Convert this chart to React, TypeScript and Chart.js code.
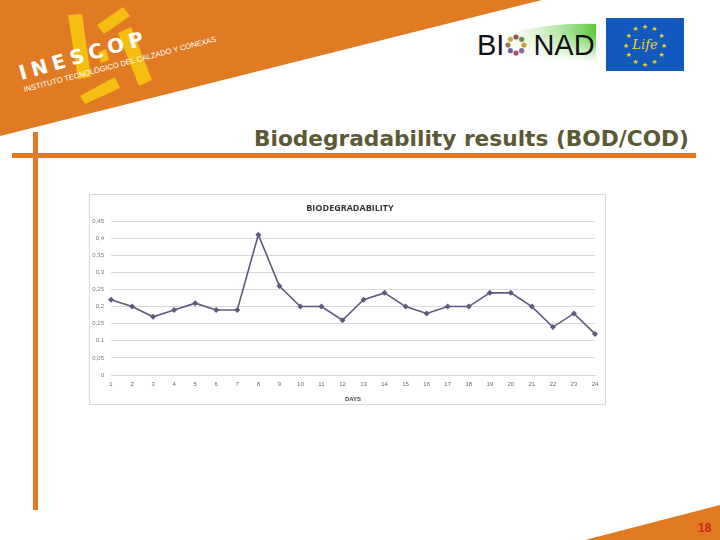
import React, { useEffect, useRef } from 'react';
import { Chart, registerables } from 'chart.js';

Chart.register(...registerables);

const days: string[] = ['1', '2', '3', '4', '5', '6', '7', '8', '9', '10', '11', '12', '13', '14', '15', '16', '17', '18', '19', '20', '21', '22', '23', '24'];
const biodegradability: number[] = [0.22, 0.2, 0.17, 0.19, 0.21, 0.19, 0.19, 0.41, 0.26, 0.2, 0.2, 0.16, 0.22, 0.24, 0.2, 0.18, 0.2, 0.2, 0.24, 0.24, 0.2, 0.14, 0.18, 0.12];
const yTickLabels: string[] = ['0', '0,05', '0,1', '0,15', '0,2', '0,25', '0,3', '0,35', '0,4', '0,45'];
const chartTitle = 'BIODEGRADABILITY';
const xAxisTitle = 'DAYS';
const slideTitle = 'Biodegradability results (BOD/COD)';
const pageNumber = '18';

const ORANGE = '#e07b24';

function BiodegChart() {
  const ref = useRef<HTMLCanvasElement | null>(null);
  useEffect(() => {
    if (!ref.current) return;
    const chart = new Chart(ref.current, {
      type: 'line',
      data: {
        labels: days,
        datasets: [
          {
            label: 'Biodegradability',
            data: biodegradability,
            borderColor: '#5d5b7d',
            backgroundColor: '#5d5b7d',
            borderWidth: 1.6,
            pointStyle: 'rectRot',
            pointRadius: 3,
            pointBorderWidth: 0,
            tension: 0,
          },
        ],
      },
      options: {
        responsive: false,
        animation: false,
        layout: { padding: { top: 26, right: 10, left: 0, bottom: 0 } },
        plugins: { legend: { display: false }, title: { display: false }, tooltip: { enabled: false } },
        scales: {
          x: {
            offset: false,
            grid: { display: false, drawTicks: false },
            border: { display: true, color: '#d9d9d9' },
            ticks: { font: { size: 6, family: 'Liberation Sans' }, color: '#666', padding: 6, maxRotation: 0, autoSkip: false },
            title: { display: true, text: xAxisTitle, font: { size: 6, weight: 'bold', family: 'Liberation Sans' }, color: '#444', padding: { top: 0, bottom: 1 } },
            afterFit: (s: any) => { s.height = 29; },
          },
          y: {
            min: 0,
            max: 0.45,
            ticks: {
              stepSize: 0.05,
              font: { size: 6, family: 'Liberation Sans' },
              color: '#777',
              padding: 7,
              callback: (_v: any, i: number) => yTickLabels[i],
            },
            grid: { color: '#d9d9d9', drawTicks: false },
            border: { display: false },
            afterFit: (s: any) => { s.width = 21; },
          },
        },
      },
    });
    return () => chart.destroy();
  }, []);
  return <canvas ref={ref} width={515} height={209} style={{ display: 'block', width: 515, height: 209 }} />;
}

const starPositions = Array.from({ length: 12 }, (_, i) => i);

export default function App() {
  return (
    <div style={{ position: 'absolute', left: 0, top: 0, width: 720, height: 540, overflow: 'hidden', background: '#fff', fontFamily: 'DejaVu Sans, sans-serif' }}>
      <svg width={720} height={540} style={{ position: 'absolute', left: 0, top: 0 }}>
        <polygon points="0,0 542,0 0,136" fill={ORANGE} />
        <polygon points="585,540 720,505 720,540" fill={ORANGE} />
        {/* INESCOP logo shapes */}
        <g fill="#f7be12">
          <polygon points="68,15 82,14 91,77 78,79" />
          <polygon points="97,25 123,7 130,16 104,34" />
          <polygon points="118,33 131,27 152,80 139,86" />
          <polygon points="80,96 115,77 120,88 85,104" />
          <polygon points="98,52 106,49 109,60 101,63" />
        </g>
        {/* horizontal and vertical rules */}
        <rect x={12} y={153} width={684} height={5} fill={ORANGE} />
        <rect x={33} y={132} width={5} height={378} fill={ORANGE} />
        {/* BIONAD green wave */}
        <defs>
          <linearGradient id="gw" x1="0" x2="1" y1="0" y2="0">
            <stop offset="0" stopColor="#ffffff" stopOpacity="0" />
            <stop offset="1" stopColor="#5cc738" />
          </linearGradient>
          <linearGradient id="gw2" x1="0" x2="0" y1="0" y2="1">
            <stop offset="0" stopColor="#ffffff" stopOpacity="0" />
            <stop offset="1" stopColor="#ffffff" />
          </linearGradient>
        </defs>
        <path d="M 485 40 Q 540 22 596 24 L 596 62 L 485 62 Z" fill="url(#gw)" />
        <path d="M 485 40 Q 540 30 596 36 L 596 62 L 485 62 Z" fill="url(#gw2)" />
        {/* BIONAD dots */}
        {[['#c9a03c', 0], ['#8a6a9a', 1], ['#b84a6a', 2], ['#7a5aa0', 3], ['#9a7a4a', 4], ['#c8b040', 5], ['#a05050', 6], ['#6a8a4a', 7]].map(([c, i]) => {
          const a = ((i as number) / 8) * Math.PI * 2;
          return <circle key={i as number} cx={516 + Math.cos(a) * 8} cy={45 + Math.sin(a) * 8} r={2.6} fill={c as string} />;
        })}
        {/* EU flag */}
        <rect x={606} y={18} width={78} height={53} fill="#1258bd" />
        {starPositions.map((i) => {
          const a = (i / 12) * Math.PI * 2;
          return (
            <text key={i} x={645 + Math.cos(a) * 19} y={45 + Math.sin(a) * 19 + 2.5} fill="#f2d21c" fontSize={7} textAnchor="middle">★</text>
          );
        })}
        <text x={645} y={49} fill="#f2d21c" fontSize={13} fontStyle="italic" fontFamily="DejaVu Serif" textAnchor="middle">Life</text>
      </svg>

      {/* INESCOP text */}
      <div style={{ position: 'absolute', left: 22, top: 63, color: '#fff', fontFamily: 'DejaVu Sans', fontWeight: 'bold', fontSize: 20, letterSpacing: 5, transform: 'rotate(-16deg)', transformOrigin: 'left bottom', whiteSpace: 'nowrap', lineHeight: '20px' }}>
        INESCOP
      </div>
      <div style={{ position: 'absolute', left: 25, top: 86, color: '#fff', fontFamily: 'Liberation Sans', fontSize: 7.6, transform: 'rotate(-14.8deg)', transformOrigin: 'left bottom', whiteSpace: 'nowrap', lineHeight: '8px' }}>
        INSTITUTO TECNOLÓGICO DEL CALZADO Y CONEXAS
      </div>

      {/* BIONAD text */}
      <div style={{ position: 'absolute', left: 477, top: 28, fontFamily: 'Liberation Sans', fontSize: 29, color: '#111', lineHeight: '34px', whiteSpace: 'nowrap' }}>
        BI<span style={{ display: 'inline-block', width: 29 }}></span>NAD
      </div>

      {/* Slide title */}
      <div style={{ position: 'absolute', right: 31, top: 126, fontFamily: 'DejaVu Sans', fontWeight: 'bold', fontSize: 21.7, color: '#5c5a36', whiteSpace: 'nowrap', lineHeight: '26px' }}>
        {slideTitle}
      </div>

      {/* Chart frame */}
      <div style={{ position: 'absolute', left: 89, top: 194, width: 515, height: 209, border: '1px solid #d9d9d9', background: '#fff' }}>
        <BiodegChart />
        <div style={{ position: 'absolute', left: 0, top: 7, width: 520, textAlign: 'center', fontFamily: 'Open Sans', fontWeight: 'bold', fontSize: 9, color: '#333', lineHeight: '11px' }}>
          {chartTitle}
        </div>
      </div>

      {/* Page number */}
      <div style={{ position: 'absolute', left: 698, top: 521, fontFamily: 'Liberation Sans', fontWeight: 'bold', fontSize: 12, color: '#d42020', lineHeight: '14px' }}>
        {pageNumber}
      </div>
    </div>
  );
}
